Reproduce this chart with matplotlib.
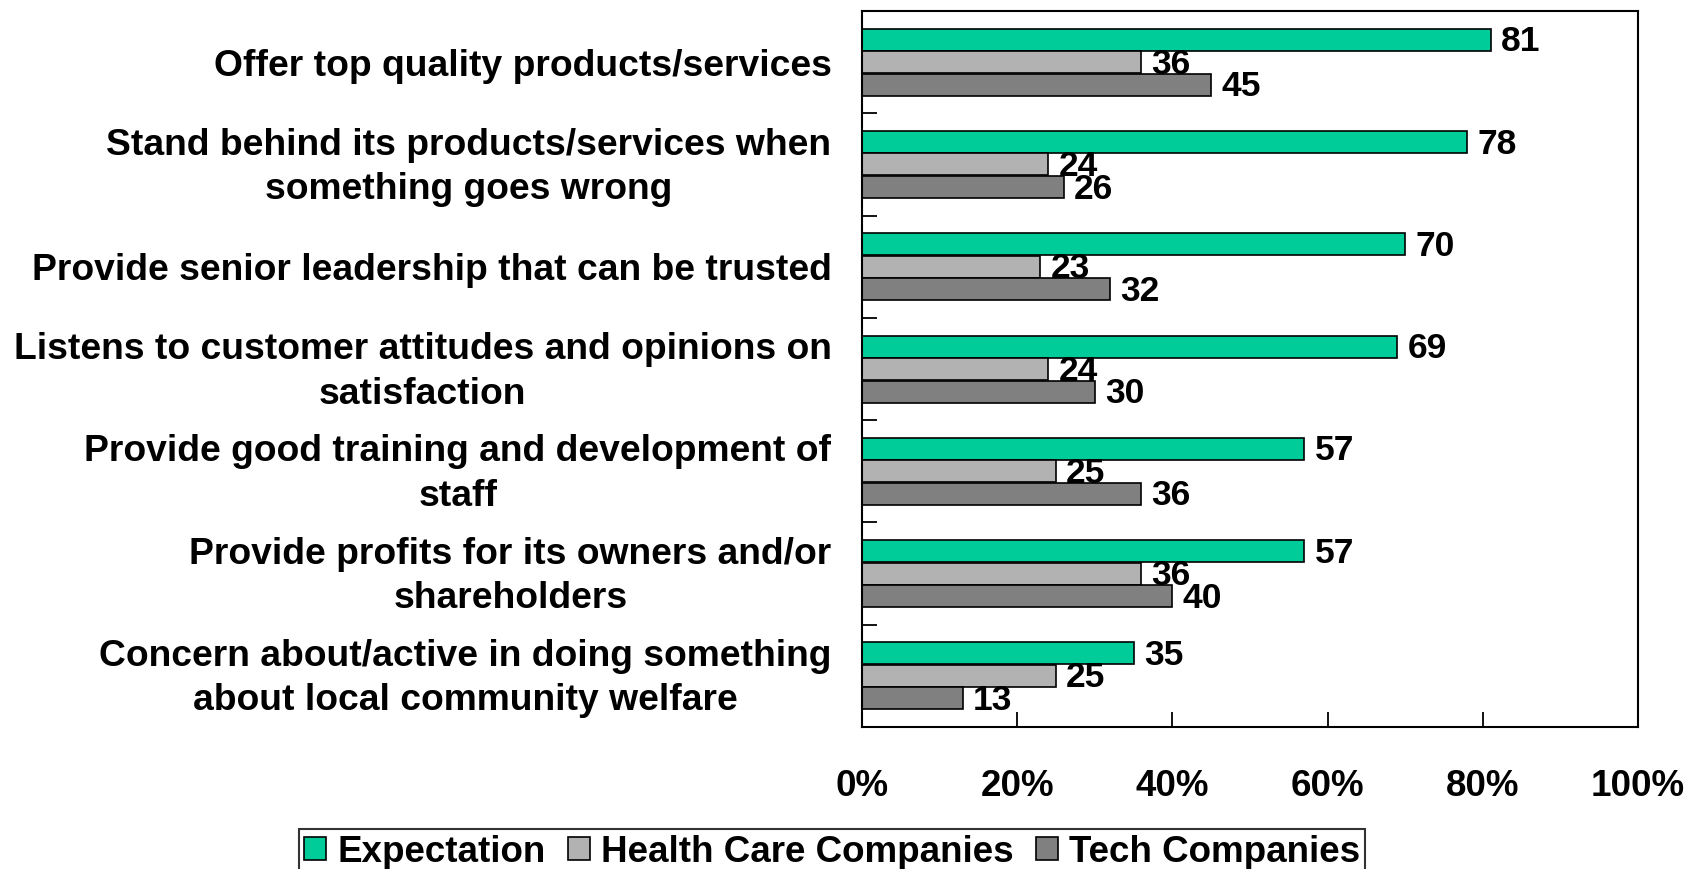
import numpy as np
import matplotlib
matplotlib.use('Agg')
import matplotlib.pyplot as plt

plt.rcParams['font.family'] = ['Liberation Sans', 'DejaVu Sans']
plt.rcParams['font.weight'] = 'bold'

# data (top to bottom)
categories = ['Offer top quality products/services',
              'Stand behind its products/services when\nsomething goes wrong',
              'Provide senior leadership that can be trusted',
              'Listens to customer attitudes and opinions on\nsatisfaction',
              'Provide good training and development of\nstaff',
              'Provide profits for its owners and/or\nshareholders',
              'Concern about/active in doing something\nabout local community welfare']
expectation = [81, 78, 70, 69, 57, 57, 35]
health_care = [36, 24, 23, 24, 25, 36, 25]
tech = [45, 26, 32, 30, 36, 40, 13]
series_names = ['Expectation', 'Health Care Companies', 'Tech Companies']
colors = ['#00CC99', '#B2B2B2', '#808080']
xticks = [0, 20, 40, 60, 80, 100]

fig = plt.figure(figsize=(17.06, 8.69), dpi=100)
ax = fig.add_axes([0.5053, 0.1634, 0.4548, 0.8239])

y = np.arange(len(categories))
h = 0.215
offsets = [-0.22, 0.0, 0.22]
for vals, name, col, off in zip([expectation, health_care, tech], series_names, colors, offsets):
    bars = ax.barh(y + off, vals, height=h, color=col, edgecolor='black', linewidth=1.2, label=name)
    for b, v in zip(bars, vals):
        ax.text(v + 1.3, b.get_y() + b.get_height() / 2 + 0.02, str(v), va='center', ha='left',
                fontsize=25.5, fontweight='bold')

ax.set_xlim(0, 100)
ax.set_ylim(len(categories) - 0.5, -0.5)
ax.set_xticks(xticks)
ax.set_xticklabels([f'{t}%' for t in xticks])
ax.tick_params(axis='x', direction='in', length=11, width=1.3, pad=30, labelsize=26.5)

# category labels drawn as text so the two-line ones can be centred like the original
ax.set_yticks([])
for yi, lab in zip(y, categories):
    dy = -2 if '\n' in lab else -3
    ax.annotate(lab, xy=(0, yi), xycoords=('axes fraction', 'data'), xytext=(-22, dy),
                textcoords='offset points', ha='right', va='center', ma='center',
                fontsize=26.8, fontweight='bold', linespacing=1.35)
ax.set_yticks(np.arange(-0.5, len(categories) + 0.5, 1), minor=True)
ax.tick_params(axis='y', which='minor', direction='in', length=11, width=1.3)

for s in ax.spines.values():
    s.set_linewidth(1.5)
    s.set_color('black')

leg = fig.legend(loc='upper center', bbox_to_anchor=(0.4877, 0.046), ncol=3, fontsize=26.5,
                 frameon=True, fancybox=False, edgecolor='black', handlelength=0.6,
                 handleheight=0.6, handletextpad=0.3, columnspacing=0.6, borderpad=0.15,
                 borderaxespad=0)
leg.get_frame().set_linewidth(1.5)

fig.savefig('out.png', dpi=100)
